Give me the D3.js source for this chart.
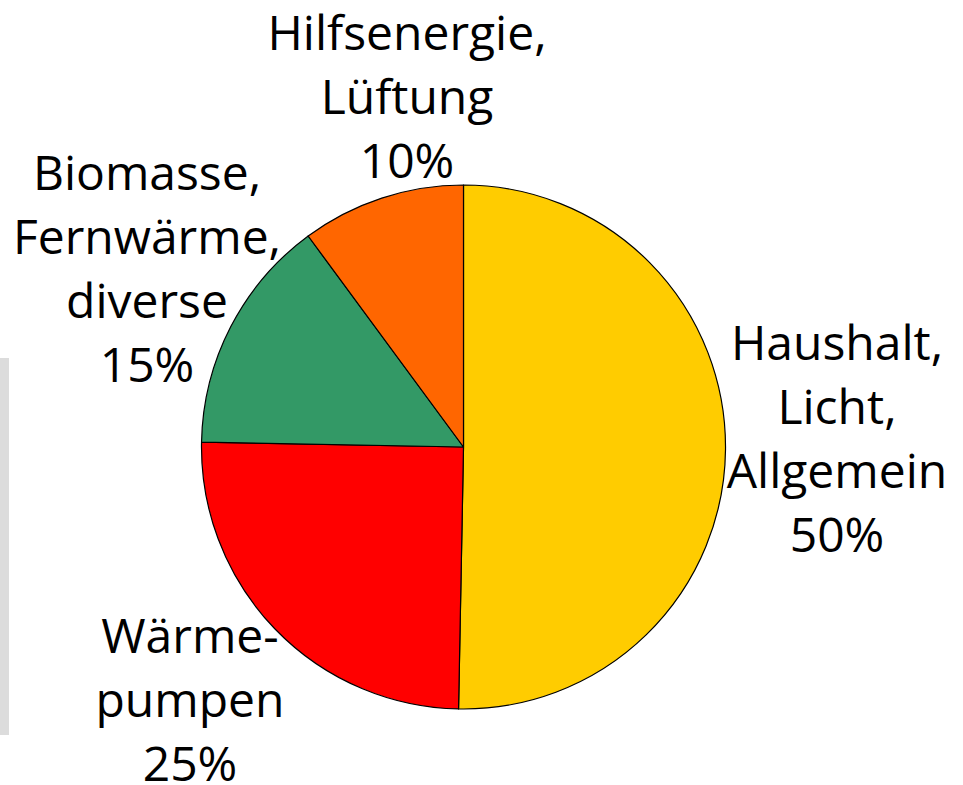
<!DOCTYPE html>
<html>
<head>
<meta charset="utf-8">
<script src="https://cdn.jsdelivr.net/npm/d3@7"></script>
<style>
  body { margin: 0; background: #fff; }
  .label { font-family: 'Open Sans', sans-serif; font-size: 48px; fill: #000; }
</style>
</head>
<body>
<div class="main"></div>
<script>
// data
var categories = [
    ['Haushalt,', 'Licht,', 'Allgemein'],
    ['Wärme-', 'pumpen'],
    ['Biomasse,', 'Fernwärme,', 'diverse'],
    ['Hilfsenergie,', 'Lüftung']
];
var values = [50.3, 25.0, 14.6, 10.1];
var colors = ['#FFCC00', '#FF0000', '#339966', '#FF6600'];

// label block anchors (centre x, first baseline)
var labelPos = [[837, 360], [190, 653], [147, 190], [407, 50]];
var lineHeight = 64;

var width = 963, height = 785;
var cx = 463.5, cy = 447, radius = 262;

var svg = d3.select('.main')
    .append('svg')
    .attr('width', width)
    .attr('height', height);

// grey strip at the left border
svg.append('rect')
    .attr('x', 0)
    .attr('y', 358)
    .attr('width', 9)
    .attr('height', 377)
    .style('fill', '#dcdcdc');

var pie = d3.pie().sort(null).value(function (d) { return d; });
var arc = d3.arc().innerRadius(0).outerRadius(radius);

var g = svg.append('g')
    .attr('transform', 'translate(' + [cx, cy] + ')');

g.selectAll('.slice')
    .data(pie(values))
    .enter()
    .append('path')
    .attr('class', 'slice')
    .attr('d', arc)
    .style('fill', function (d, i) { return colors[i]; })
    .style('stroke', '#000')
    .style('stroke-width', '1.2px')
    .style('stroke-linejoin', 'round');

var total = d3.sum(values);

var labels = svg.selectAll('.label')
    .data(values)
    .enter()
    .append('text')
    .attr('class', 'label')
    .attr('text-anchor', 'middle')
    .attr('x', function (d, i) { return labelPos[i][0]; })
    .attr('y', function (d, i) { return labelPos[i][1]; });

labels.each(function (d, i) {
    var t = d3.select(this);
    var lines = categories[i].concat([Math.round(d / total * 100) + '%']);
    lines.forEach(function (line, j) {
        t.append('tspan')
            .attr('x', labelPos[i][0])
            .attr('y', labelPos[i][1] + j * lineHeight)
            .text(line);
    });
});
</script>
</body>
</html>
